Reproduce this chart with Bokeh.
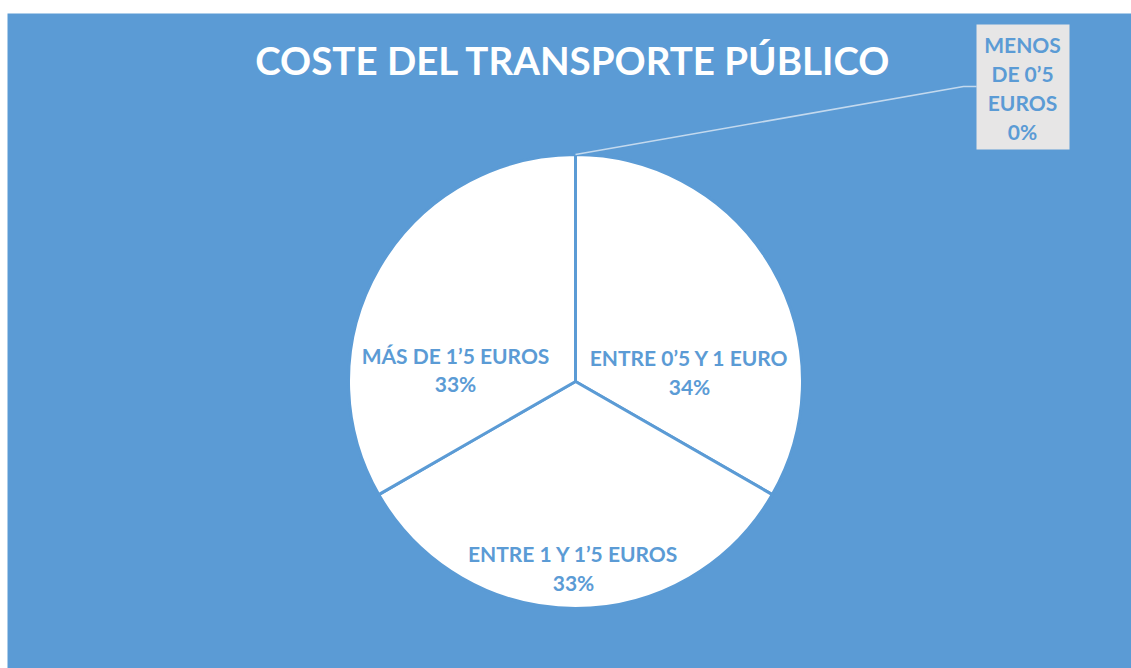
from bokeh.plotting import figure
from bokeh.models import Range1d, ColumnDataSource
from bokeh.core.properties import value
from bokeh.embed import file_html
from bokeh.resources import INLINE
import math

# ---- data ----
title = "COSTE DEL TRANSPORTE PÚBLICO"
categories = ["MENOS DE 0’5 EUROS", "ENTRE 0’5 Y 1 EURO", "ENTRE 1 Y 1’5 EUROS", "MÁS DE 1’5 EUROS"]
values = [0.0, 33.3, 33.4, 33.3]
pct_labels = ["0%", "34%", "33%", "33%"]
# label line splits (how the chart wraps each category name)
label_lines = [["MENOS", "DE 0’5", "EUROS"], ["ENTRE 0’5 Y 1 EURO"], ["ENTRE 1 Y 1’5 EUROS"], ["MÁS DE 1’5 EUROS"]]

# ---- layout (page pixels) ----
BLUE = "#5B9BD5"
W, H = 1131, 668
def Y(py):
    return H - py

FONT = "Lato"
p = figure(width=W, height=H, x_range=Range1d(0, W), y_range=Range1d(0, H),
           output_backend="svg", toolbar_location=None, min_border=0,
           x_axis_location=None, y_axis_location=None)
p.grid.visible = False
p.outline_line_color = None
p.background_fill_color = "white"
p.border_fill_color = "white"

# chart area background
p.quad(left=7, right=W, bottom=0, top=Y(13), fill_color=BLUE, line_color=None)

# pie
cx, cy, r = 575, Y(381), 227
total = sum(values)
starts, ends, cats = [], [], []
cum = 0.0
for c, v in zip(categories, values):
    a0 = math.pi / 2 - 2 * math.pi * cum / total
    cum += v
    a1 = math.pi / 2 - 2 * math.pi * cum / total
    if v > 0:
        starts.append(a0); ends.append(a1); cats.append(c)
src = ColumnDataSource(dict(start=starts, end=ends, cat=cats))
p.wedge(x=cx, y=cy, radius=r, start_angle="start", end_angle="end", direction="clock",
        fill_color="white", line_color=BLUE, line_width=3, source=src)

# leader line for the 0% slice
p.line(x=[cx, 963, 976], y=[cy + r, Y(86), Y(86)], line_color="#C3D9EE", line_width=1.6)
# callout box
p.quad(left=976, right=1069, top=Y(24), bottom=Y(149), fill_color="#E7E6E6", line_color=None)

# labels: anchor (center x, first line y) and line height
anchors = [(1022, 44), (689, 357), (573, 553), (455, 355)]
lh = [29, 29, 29, 28]
xs, ys, ts = [], [], []
for (ax, ay), lines, pct, h in zip(anchors, label_lines, pct_labels, lh):
    allines = lines + [pct]
    for i, t in enumerate(allines):
        xs.append(ax); ys.append(Y(ay + i * h)); ts.append(t)
p.text(x=xs, y=ys, text=ts, text_align="center", text_baseline="middle",
       text_font=value(FONT), text_font_style="bold", text_font_size="21px", text_color=BLUE)

# title
p.text(x=[573], y=[Y(59)], text=[title], text_align="center", text_baseline="middle",
       text_font=value(FONT), text_font_style="bold", text_font_size="38.5px", text_color="white")

open("out.html", "w").write(file_html(p, INLINE))
